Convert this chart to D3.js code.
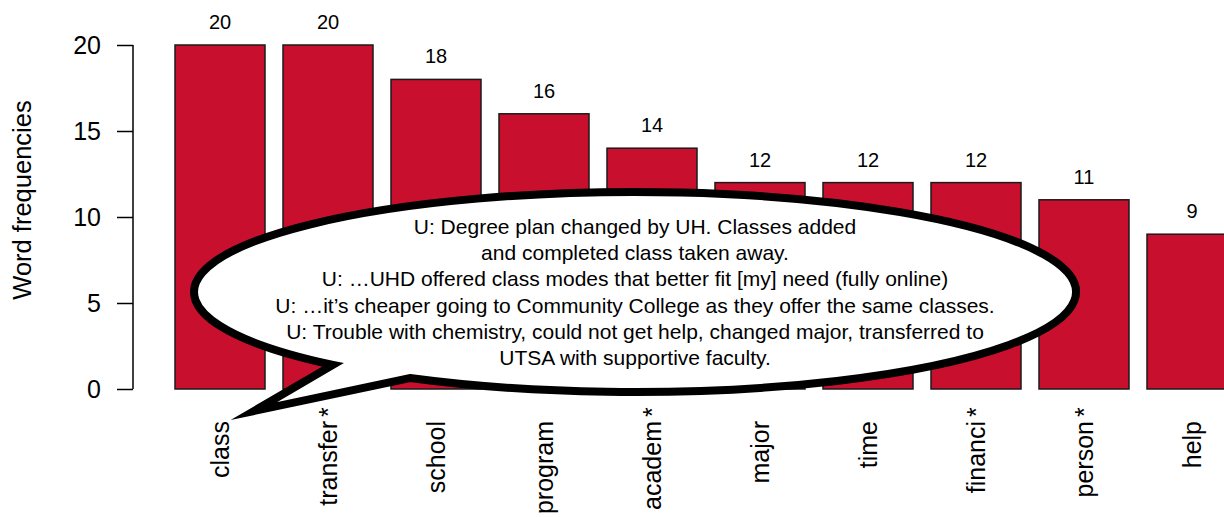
<!DOCTYPE html>
<html>
<head>
<meta charset="utf-8">
<script src="https://cdn.jsdelivr.net/npm/d3@7/dist/d3.min.js"></script>
<style>
  html, body { margin: 0; padding: 0; background: #fff; }
  svg { display: block; font-family: "Liberation Sans", Arial, Helvetica, sans-serif; }
</style>
</head>
<body>
<svg id="chart" width="1224" height="517"></svg>
<script>
// ---- data ----
const categories = ["class", "transfer", "school", "program", "academ", "major", "time", "financi", "person", "help"];
const starred = [false, true, false, false, true, false, false, true, true, false];
const frequencies = [20, 20, 18, 16, 14, 12, 12, 12, 11, 9];
const yTicks = [0, 5, 10, 15, 20];
const yTitle = "Word frequencies";
const quoteLines = [
  "U: Degree plan changed by UH. Classes added",
  "and completed class taken away.",
  "U: \u2026UHD offered class modes that better fit [my] need (fully online)",
  "U: \u2026it\u2019s cheaper going to Community College as they offer the same classes.",
  "U: Trouble with chemistry, could not get help, changed major, transferred to",
  "UTSA with supportive faculty."
];

// ---- layout ----
const svg = d3.select("#chart");
const barFill = "#C8102E";

const x = d3.scaleBand()
  .domain(categories)
  .range([166, 1246])
  .paddingInner(1 / 6)
  .paddingOuter(1 / 12);

const y = d3.scaleLinear().domain([0, 20]).range([389, 45]);

// bars
svg.append("g")
  .selectAll("rect")
  .data(frequencies)
  .join("rect")
  .attr("x", (d, i) => x(categories[i]))
  .attr("y", d => y(d))
  .attr("width", x.bandwidth())
  .attr("height", d => y(0) - y(d))
  .attr("fill", barFill)
  .attr("stroke", "#1a1a1a")
  .attr("stroke-width", 1.5);

// value labels
svg.append("g")
  .selectAll("text")
  .data(frequencies)
  .join("text")
  .attr("x", (d, i) => x(categories[i]) + x.bandwidth() / 2)
  .attr("y", d => y(d) - 16)
  .attr("text-anchor", "middle")
  .attr("font-size", 20)
  .attr("fill", "#000")
  .text(d => d);

// y axis
const yAxis = d3.axisLeft(y).tickValues(yTicks).tickSize(16).tickPadding(16);
const ga = svg.append("g")
  .attr("transform", "translate(133,0)")
  .call(yAxis);
ga.select(".domain").attr("stroke", "#000").attr("stroke-width", 1.5).attr("d", `M0,${y(0)}V${y(20)}`);
ga.selectAll(".tick line").attr("stroke", "#000").attr("stroke-width", 1.5);
ga.selectAll(".tick text").attr("font-size", 25).attr("font-family", "Liberation Sans, Arial, sans-serif").attr("fill", "#000");

// y title
svg.append("text")
  .attr("transform", "translate(31,200) rotate(-90)")
  .attr("text-anchor", "middle")
  .attr("font-size", 25.5)
  .attr("fill", "#000")
  .text(yTitle);

// x labels
const xl = svg.append("g");
categories.forEach((c, i) => {
  const cx = x(c) + x.bandwidth() / 2;
  const g = xl.append("g").attr("transform", `translate(${cx + 9},421) rotate(-90)`);
  g.append("text")
    .attr("text-anchor", "end")
    .attr("font-size", 25)
    .attr("fill", "#000")
    .text(c);
  if (starred[i]) {
    g.append("text")
      .attr("x", 4)
      .attr("text-anchor", "start")
      .attr("font-size", 25)
      .attr("fill", "#000")
      .text("*");
  }
});

// speech bubble annotation
const cxE = 635, cyE = 292, rx = 441, ry = 100;
const ellY = px => cyE + ry * Math.sqrt(1 - Math.pow((px - cxE) / rx, 2));
const A = [333, ellY(333)];
const B = [410, ellY(410)];
const tip = [254, 411];
const bubblePath = `M${B[0]},${B[1]} A${rx},${ry} 0 1 0 ${A[0]},${A[1]} L${tip[0]},${tip[1]} Z`;
svg.append("path")
  .attr("d", bubblePath)
  .attr("fill", "#fff")
  .attr("stroke", "#000")
  .attr("stroke-width", 8)
  .attr("stroke-linejoin", "miter")
  .attr("stroke-miterlimit", 20);

const lineH = 26.2;
svg.append("g")
  .selectAll("text")
  .data(quoteLines)
  .join("text")
  .attr("x", cxE)
  .attr("y", (d, i) => 234 + i * lineH)
  .attr("text-anchor", "middle")
  .attr("font-size", 21)
  .attr("fill", "#000")
  .text(d => d);
</script>
</body>
</html>
